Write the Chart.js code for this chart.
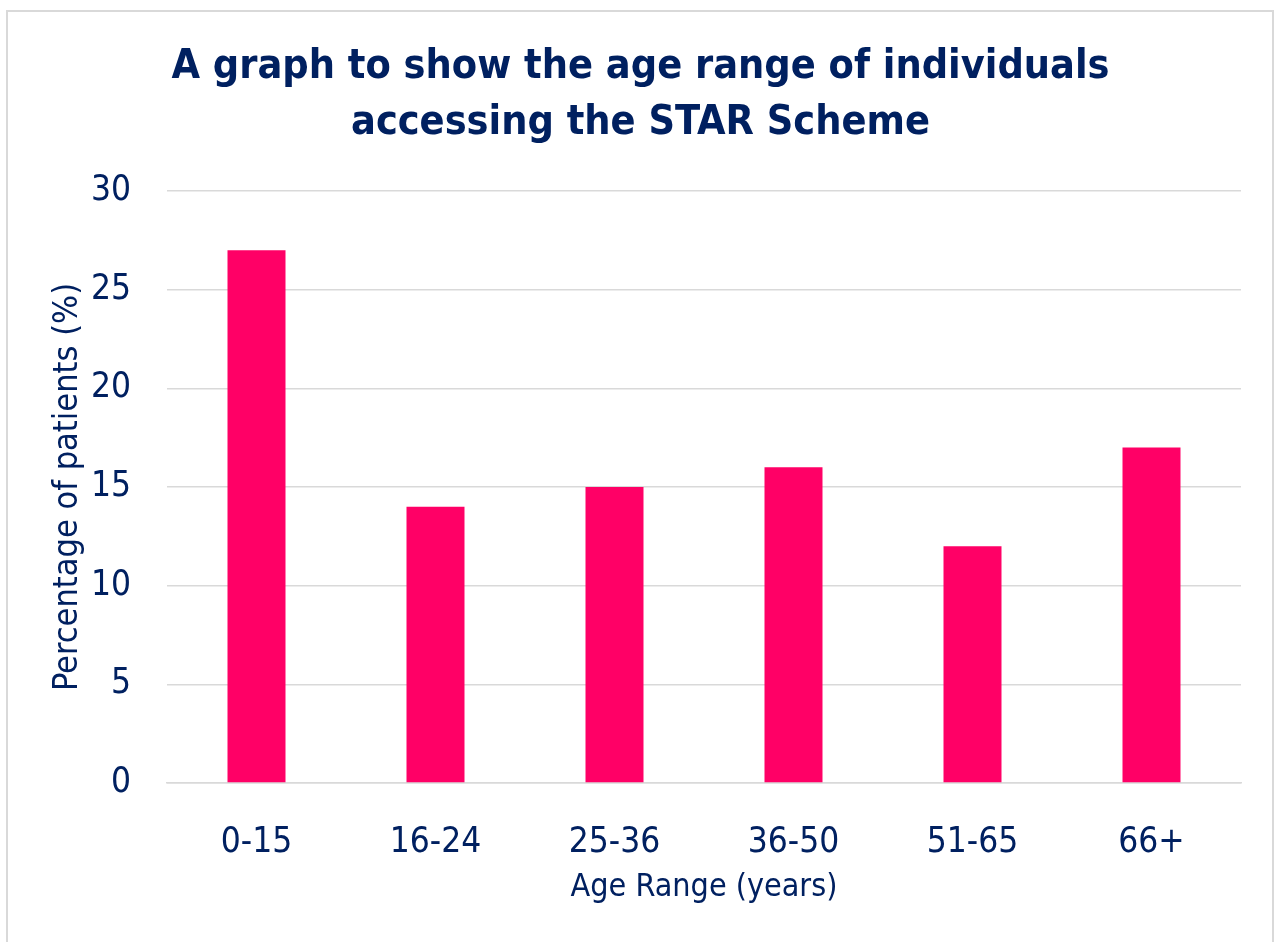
<!DOCTYPE html>
<html lang="en">
<head>
    <meta charset="UTF-8">
    <title>STAR Scheme age range</title>
    <script src="https://cdn.jsdelivr.net/npm/chart.js"></script>
    <style>
        body { margin: 0; background: #fff; }
        .frame {
            position: absolute;
            left: 6px; top: 10px;
            width: 1268px; height: 940px;
            box-sizing: border-box;
            border: 2px solid #d9d9d9;
        }
        canvas { display: block; }
    </style>
</head>
<body>
    <div class="frame">
        <canvas id="ageChart" width="1264" height="936"></canvas>
    </div>

    <script>
        // Data
        const ageRanges = ['0-15', '16-24', '25-36', '36-50', '51-65', '66+'];
        const patientPercent = [27, 14, 15, 16, 12, 17];
        const titleLines = ['A graph to show the age range of individuals', 'accessing the STAR Scheme'];

        const navy = '#002060';
        const fontFamily = '"DejaVu Sans Condensed", "DejaVu Sans", sans-serif';

        const ctx = document.getElementById('ageChart').getContext('2d');
        new Chart(ctx, {
            type: 'bar',
            data: {
                labels: ageRanges,
                datasets: [{
                    label: 'Percentage of patients',
                    data: patientPercent,
                    backgroundColor: '#ff0066',
                    borderWidth: 0,
                    barPercentage: 0.324,
                    categoryPercentage: 1
                }]
            },
            options: {
                responsive: false,
                animation: false,
                // equal-ish side padding keeps the title centred in the frame
                layout: { padding: { left: 32, right: 31, top: 0, bottom: 0 } },
                plugins: {
                    legend: { display: false },
                    tooltip: { enabled: false },
                    title: {
                        display: true,
                        text: titleLines,
                        color: navy,
                        font: { family: fontFamily, size: 41, weight: 'bold', lineHeight: '56px' },
                        padding: { top: 27, bottom: 40 }
                    }
                },
                scales: {
                    x: {
                        grid: { display: false },
                        border: { color: '#d9d9d9', width: 1.5 },
                        ticks: {
                            color: navy,
                            font: { family: fontFamily, size: 35 },
                            padding: 31
                        },
                        title: {
                            display: true,
                            text: 'Age Range (years)',
                            color: navy,
                            font: { family: fontFamily, size: 32 },
                            padding: { top: 0, bottom: 41 }
                        },
                        afterFit: (scale) => { scale.height = 165; }
                    },
                    y: {
                        min: 0,
                        max: 30,
                        ticks: {
                            stepSize: 5,
                            color: navy,
                            font: { family: fontFamily, size: 35 },
                            padding: 36
                        },
                        grid: { color: '#d9d9d9', lineWidth: 1.5, drawTicks: false },
                        border: { display: false },
                        title: {
                            display: true,
                            text: 'Percentage of patients (%)',
                            color: navy,
                            font: { family: fontFamily, size: 34 },
                            padding: { top: 8, bottom: 0 }
                        },
                        afterFit: (scale) => { scale.width = 127; }
                    }
                }
            }
        });
    </script>
</body>
</html>
